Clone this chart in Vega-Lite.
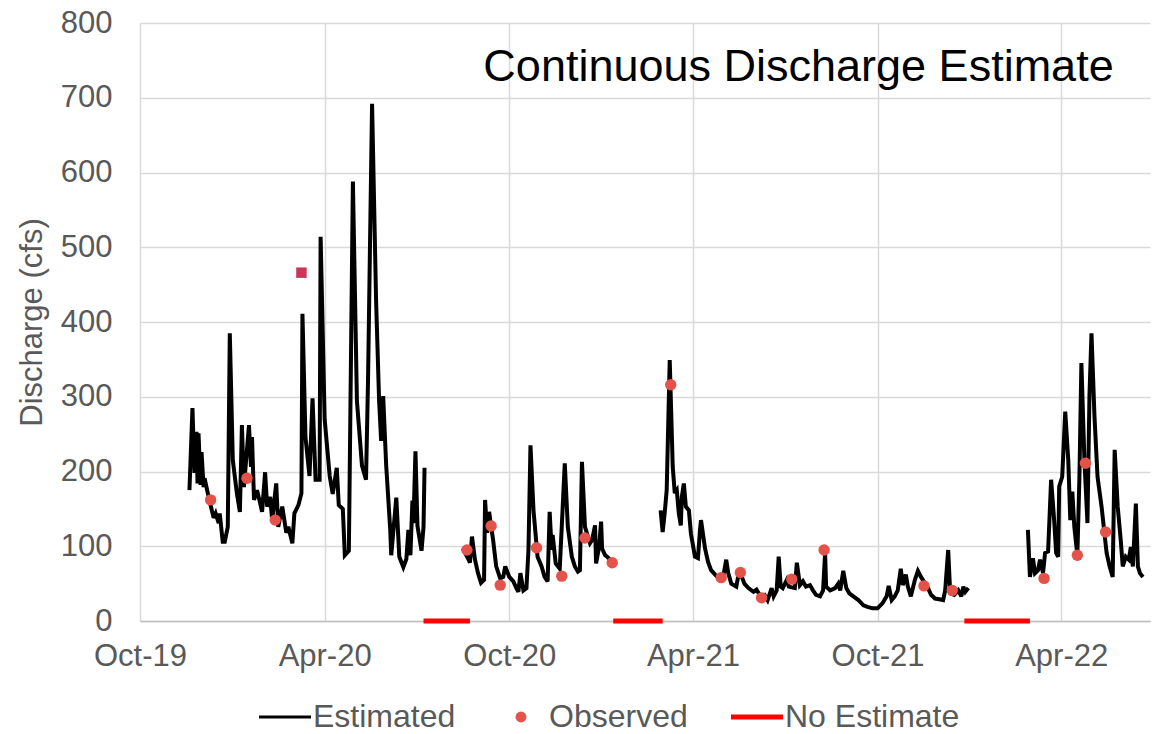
{
  "$schema": "https://vega.github.io/schema/vega-lite/v6.json",
  "width": 1010,
  "height": 598,
  "autosize": "none",
  "padding": {"left": 140, "top": 23, "right": 7, "bottom": 113},
  "background": "white",
  "config": {"view": {"stroke": null}, "font": "Liberation Sans"},
  "data": {"values": [
    {"d":"2019-11-19","v":175,"s":"Estimated","g":1},{"d":"2019-11-22","v":285,"s":"Estimated","g":1},{"d":"2019-11-24","v":198,"s":"Estimated","g":1},{"d":"2019-11-26","v":253,"s":"Estimated","g":1},{"d":"2019-11-27","v":184,"s":"Estimated","g":1},{"d":"2019-11-28","v":251,"s":"Estimated","g":1},{"d":"2019-11-30","v":182,"s":"Estimated","g":1},{"d":"2019-12-01","v":226,"s":"Estimated","g":1},{"d":"2019-12-03","v":179,"s":"Estimated","g":1},{"d":"2019-12-04","v":191,"s":"Estimated","g":1},{"d":"2019-12-08","v":166,"s":"Estimated","g":1},{"d":"2019-12-13","v":138,"s":"Estimated","g":1},{"d":"2019-12-15","v":144,"s":"Estimated","g":1},{"d":"2019-12-18","v":131,"s":"Estimated","g":1},{"d":"2019-12-19","v":144,"s":"Estimated","g":1},{"d":"2019-12-22","v":106,"s":"Estimated","g":1},{"d":"2019-12-24","v":106,"s":"Estimated","g":1},{"d":"2019-12-27","v":126,"s":"Estimated","g":1},{"d":"2019-12-29","v":385,"s":"Estimated","g":1},{"d":"2020-01-01","v":215,"s":"Estimated","g":1},{"d":"2020-01-05","v":171,"s":"Estimated","g":1},{"d":"2020-01-08","v":146,"s":"Estimated","g":1},{"d":"2020-01-10","v":262,"s":"Estimated","g":1},{"d":"2020-01-12","v":179,"s":"Estimated","g":1},{"d":"2020-01-17","v":262,"s":"Estimated","g":1},{"d":"2020-01-19","v":206,"s":"Estimated","g":1},{"d":"2020-01-20","v":246,"s":"Estimated","g":1},{"d":"2020-01-22","v":162,"s":"Estimated","g":1},{"d":"2020-01-25","v":175,"s":"Estimated","g":1},{"d":"2020-01-28","v":158,"s":"Estimated","g":1},{"d":"2020-01-30","v":146,"s":"Estimated","g":1},{"d":"2020-02-02","v":199,"s":"Estimated","g":1},{"d":"2020-02-04","v":153,"s":"Estimated","g":1},{"d":"2020-02-07","v":166,"s":"Estimated","g":1},{"d":"2020-02-09","v":135,"s":"Estimated","g":1},{"d":"2020-02-13","v":184,"s":"Estimated","g":1},{"d":"2020-02-15","v":126,"s":"Estimated","g":1},{"d":"2020-02-19","v":153,"s":"Estimated","g":1},{"d":"2020-02-23","v":118,"s":"Estimated","g":1},{"d":"2020-02-25","v":126,"s":"Estimated","g":1},{"d":"2020-02-29","v":104,"s":"Estimated","g":1},{"d":"2020-03-02","v":144,"s":"Estimated","g":1},{"d":"2020-03-06","v":155,"s":"Estimated","g":1},{"d":"2020-03-09","v":171,"s":"Estimated","g":1},{"d":"2020-03-10","v":411,"s":"Estimated","g":1},{"d":"2020-03-13","v":246,"s":"Estimated","g":1},{"d":"2020-03-17","v":194,"s":"Estimated","g":1},{"d":"2020-03-20","v":298,"s":"Estimated","g":1},{"d":"2020-03-23","v":189,"s":"Estimated","g":1},{"d":"2020-03-27","v":189,"s":"Estimated","g":1},{"d":"2020-03-28","v":514,"s":"Estimated","g":1},{"d":"2020-04-01","v":270,"s":"Estimated","g":1},{"d":"2020-04-06","v":194,"s":"Estimated","g":1},{"d":"2020-04-09","v":170,"s":"Estimated","g":1},{"d":"2020-04-13","v":205,"s":"Estimated","g":1},{"d":"2020-04-15","v":155,"s":"Estimated","g":1},{"d":"2020-04-19","v":150,"s":"Estimated","g":1},{"d":"2020-04-21","v":88,"s":"Estimated","g":1},{"d":"2020-04-25","v":94,"s":"Estimated","g":1},{"d":"2020-04-29","v":588,"s":"Estimated","g":1},{"d":"2020-05-03","v":294,"s":"Estimated","g":1},{"d":"2020-05-08","v":208,"s":"Estimated","g":1},{"d":"2020-05-12","v":189,"s":"Estimated","g":1},{"d":"2020-05-14","v":322,"s":"Estimated","g":1},{"d":"2020-05-18","v":692,"s":"Estimated","g":1},{"d":"2020-05-22","v":428,"s":"Estimated","g":1},{"d":"2020-05-25","v":294,"s":"Estimated","g":1},{"d":"2020-05-27","v":241,"s":"Estimated","g":1},{"d":"2020-05-29","v":301,"s":"Estimated","g":1},{"d":"2020-06-01","v":208,"s":"Estimated","g":1},{"d":"2020-06-05","v":122,"s":"Estimated","g":1},{"d":"2020-06-06","v":88,"s":"Estimated","g":1},{"d":"2020-06-11","v":165,"s":"Estimated","g":1},{"d":"2020-06-14","v":86,"s":"Estimated","g":1},{"d":"2020-06-18","v":72,"s":"Estimated","g":1},{"d":"2020-06-21","v":83,"s":"Estimated","g":1},{"d":"2020-06-23","v":122,"s":"Estimated","g":1},{"d":"2020-06-25","v":88,"s":"Estimated","g":1},{"d":"2020-06-27","v":161,"s":"Estimated","g":1},{"d":"2020-06-28","v":131,"s":"Estimated","g":1},{"d":"2020-06-30","v":227,"s":"Estimated","g":1},{"d":"2020-07-02","v":127,"s":"Estimated","g":1},{"d":"2020-07-06","v":94,"s":"Estimated","g":1},{"d":"2020-07-08","v":126,"s":"Estimated","g":1},{"d":"2020-07-09","v":205,"s":"Estimated","g":1},
    {"d":"2020-08-16","v":97,"s":"Estimated","g":2},{"d":"2020-08-21","v":84,"s":"Estimated","g":2},{"d":"2020-08-23","v":78,"s":"Estimated","g":2},{"d":"2020-08-25","v":113,"s":"Estimated","g":2},{"d":"2020-08-28","v":82,"s":"Estimated","g":2},{"d":"2020-08-31","v":64,"s":"Estimated","g":2},{"d":"2020-09-03","v":51,"s":"Estimated","g":2},{"d":"2020-09-06","v":55,"s":"Estimated","g":2},{"d":"2020-09-07","v":162,"s":"Estimated","g":2},{"d":"2020-09-09","v":118,"s":"Estimated","g":2},{"d":"2020-09-11","v":146,"s":"Estimated","g":2},{"d":"2020-09-15","v":108,"s":"Estimated","g":2},{"d":"2020-09-18","v":73,"s":"Estimated","g":2},{"d":"2020-09-22","v":57,"s":"Estimated","g":2},{"d":"2020-09-25","v":59,"s":"Estimated","g":2},{"d":"2020-09-27","v":73,"s":"Estimated","g":2},{"d":"2020-10-01","v":59,"s":"Estimated","g":2},{"d":"2020-10-05","v":53,"s":"Estimated","g":2},{"d":"2020-10-08","v":44,"s":"Estimated","g":2},{"d":"2020-10-10","v":39,"s":"Estimated","g":2},{"d":"2020-10-12","v":64,"s":"Estimated","g":2},{"d":"2020-10-15","v":41,"s":"Estimated","g":2},{"d":"2020-10-18","v":44,"s":"Estimated","g":2},{"d":"2020-10-20","v":95,"s":"Estimated","g":2},{"d":"2020-10-22","v":235,"s":"Estimated","g":2},{"d":"2020-10-25","v":148,"s":"Estimated","g":2},{"d":"2020-10-29","v":86,"s":"Estimated","g":2},{"d":"2020-11-02","v":73,"s":"Estimated","g":2},{"d":"2020-11-05","v":59,"s":"Estimated","g":2},{"d":"2020-11-08","v":53,"s":"Estimated","g":2},{"d":"2020-11-10","v":146,"s":"Estimated","g":2},{"d":"2020-11-12","v":95,"s":"Estimated","g":2},{"d":"2020-11-13","v":115,"s":"Estimated","g":2},{"d":"2020-11-16","v":77,"s":"Estimated","g":2},{"d":"2020-11-20","v":70,"s":"Estimated","g":2},{"d":"2020-11-25","v":211,"s":"Estimated","g":2},{"d":"2020-11-28","v":126,"s":"Estimated","g":2},{"d":"2020-12-02","v":86,"s":"Estimated","g":2},{"d":"2020-12-05","v":73,"s":"Estimated","g":2},{"d":"2020-12-08","v":66,"s":"Estimated","g":2},{"d":"2020-12-10","v":68,"s":"Estimated","g":2},{"d":"2020-12-12","v":213,"s":"Estimated","g":2},{"d":"2020-12-15","v":126,"s":"Estimated","g":2},{"d":"2020-12-20","v":104,"s":"Estimated","g":2},{"d":"2020-12-22","v":108,"s":"Estimated","g":2},{"d":"2020-12-25","v":128,"s":"Estimated","g":2},{"d":"2020-12-26","v":77,"s":"Estimated","g":2},{"d":"2020-12-29","v":99,"s":"Estimated","g":2},{"d":"2020-12-31","v":133,"s":"Estimated","g":2},{"d":"2021-01-01","v":97,"s":"Estimated","g":2},{"d":"2021-01-04","v":88,"s":"Estimated","g":2},{"d":"2021-01-06","v":86,"s":"Estimated","g":2},{"d":"2021-01-10","v":80,"s":"Estimated","g":2},{"d":"2021-01-13","v":78,"s":"Estimated","g":2},
    {"d":"2021-02-28","v":148,"s":"Estimated","g":3},{"d":"2021-03-02","v":119,"s":"Estimated","g":3},{"d":"2021-03-04","v":144,"s":"Estimated","g":3},{"d":"2021-03-06","v":175,"s":"Estimated","g":3},{"d":"2021-03-09","v":349,"s":"Estimated","g":3},{"d":"2021-03-12","v":206,"s":"Estimated","g":3},{"d":"2021-03-14","v":171,"s":"Estimated","g":3},{"d":"2021-03-16","v":175,"s":"Estimated","g":3},{"d":"2021-03-18","v":144,"s":"Estimated","g":3},{"d":"2021-03-20","v":128,"s":"Estimated","g":3},{"d":"2021-03-21","v":166,"s":"Estimated","g":3},{"d":"2021-03-23","v":184,"s":"Estimated","g":3},{"d":"2021-03-25","v":153,"s":"Estimated","g":3},{"d":"2021-03-28","v":148,"s":"Estimated","g":3},{"d":"2021-03-30","v":117,"s":"Estimated","g":3},{"d":"2021-04-03","v":86,"s":"Estimated","g":3},{"d":"2021-04-06","v":84,"s":"Estimated","g":3},{"d":"2021-04-08","v":122,"s":"Estimated","g":3},{"d":"2021-04-09","v":135,"s":"Estimated","g":3},{"d":"2021-04-13","v":97,"s":"Estimated","g":3},{"d":"2021-04-16","v":79,"s":"Estimated","g":3},{"d":"2021-04-19","v":68,"s":"Estimated","g":3},{"d":"2021-04-23","v":62,"s":"Estimated","g":3},{"d":"2021-04-28","v":55,"s":"Estimated","g":3},{"d":"2021-05-01","v":59,"s":"Estimated","g":3},{"d":"2021-05-04","v":82,"s":"Estimated","g":3},{"d":"2021-05-06","v":64,"s":"Estimated","g":3},{"d":"2021-05-09","v":50,"s":"Estimated","g":3},{"d":"2021-05-14","v":46,"s":"Estimated","g":3},{"d":"2021-05-17","v":68,"s":"Estimated","g":3},{"d":"2021-05-22","v":50,"s":"Estimated","g":3},{"d":"2021-05-26","v":44,"s":"Estimated","g":3},{"d":"2021-05-31","v":39,"s":"Estimated","g":3},{"d":"2021-06-03","v":42,"s":"Estimated","g":3},{"d":"2021-06-07","v":33,"s":"Estimated","g":3},{"d":"2021-06-11","v":35,"s":"Estimated","g":3},{"d":"2021-06-14","v":28,"s":"Estimated","g":3},{"d":"2021-06-18","v":44,"s":"Estimated","g":3},{"d":"2021-06-20","v":33,"s":"Estimated","g":3},{"d":"2021-06-23","v":41,"s":"Estimated","g":3},{"d":"2021-06-25","v":86,"s":"Estimated","g":3},{"d":"2021-06-27","v":46,"s":"Estimated","g":3},{"d":"2021-06-29","v":44,"s":"Estimated","g":3},{"d":"2021-07-03","v":55,"s":"Estimated","g":3},{"d":"2021-07-05","v":46,"s":"Estimated","g":3},{"d":"2021-07-11","v":44,"s":"Estimated","g":3},{"d":"2021-07-13","v":78,"s":"Estimated","g":3},{"d":"2021-07-16","v":48,"s":"Estimated","g":3},{"d":"2021-07-19","v":53,"s":"Estimated","g":3},{"d":"2021-07-22","v":46,"s":"Estimated","g":3},{"d":"2021-07-26","v":48,"s":"Estimated","g":3},{"d":"2021-07-29","v":41,"s":"Estimated","g":3},{"d":"2021-08-01","v":35,"s":"Estimated","g":3},{"d":"2021-08-05","v":33,"s":"Estimated","g":3},{"d":"2021-08-08","v":41,"s":"Estimated","g":3},{"d":"2021-08-10","v":91,"s":"Estimated","g":3},{"d":"2021-08-11","v":46,"s":"Estimated","g":3},{"d":"2021-08-15","v":41,"s":"Estimated","g":3},{"d":"2021-08-20","v":44,"s":"Estimated","g":3},{"d":"2021-08-23","v":50,"s":"Estimated","g":3},{"d":"2021-08-25","v":41,"s":"Estimated","g":3},{"d":"2021-08-28","v":67,"s":"Estimated","g":3},{"d":"2021-08-31","v":44,"s":"Estimated","g":3},{"d":"2021-09-03","v":37,"s":"Estimated","g":3},{"d":"2021-09-07","v":33,"s":"Estimated","g":3},{"d":"2021-09-12","v":28,"s":"Estimated","g":3},{"d":"2021-09-17","v":21,"s":"Estimated","g":3},{"d":"2021-09-21","v":19,"s":"Estimated","g":3},{"d":"2021-09-26","v":17,"s":"Estimated","g":3},{"d":"2021-10-01","v":17,"s":"Estimated","g":3},{"d":"2021-10-06","v":24,"s":"Estimated","g":3},{"d":"2021-10-10","v":33,"s":"Estimated","g":3},{"d":"2021-10-12","v":47,"s":"Estimated","g":3},{"d":"2021-10-15","v":28,"s":"Estimated","g":3},{"d":"2021-10-18","v":33,"s":"Estimated","g":3},{"d":"2021-10-21","v":41,"s":"Estimated","g":3},{"d":"2021-10-24","v":70,"s":"Estimated","g":3},{"d":"2021-10-26","v":48,"s":"Estimated","g":3},{"d":"2021-10-29","v":62,"s":"Estimated","g":3},{"d":"2021-10-31","v":46,"s":"Estimated","g":3},{"d":"2021-11-03","v":33,"s":"Estimated","g":3},{"d":"2021-11-07","v":55,"s":"Estimated","g":3},{"d":"2021-11-10","v":67,"s":"Estimated","g":3},{"d":"2021-11-13","v":59,"s":"Estimated","g":3},{"d":"2021-11-20","v":44,"s":"Estimated","g":3},{"d":"2021-11-23","v":35,"s":"Estimated","g":3},{"d":"2021-11-27","v":30,"s":"Estimated","g":3},{"d":"2021-12-01","v":29,"s":"Estimated","g":3},{"d":"2021-12-05","v":28,"s":"Estimated","g":3},{"d":"2021-12-07","v":41,"s":"Estimated","g":3},{"d":"2021-12-10","v":95,"s":"Estimated","g":3},{"d":"2021-12-12","v":37,"s":"Estimated","g":3},{"d":"2021-12-16","v":35,"s":"Estimated","g":3},{"d":"2021-12-20","v":41,"s":"Estimated","g":3},{"d":"2021-12-23","v":33,"s":"Estimated","g":3},{"d":"2021-12-25","v":46,"s":"Estimated","g":3},{"d":"2021-12-27","v":39,"s":"Estimated","g":3},{"d":"2021-12-30","v":44,"s":"Estimated","g":3},
    {"d":"2022-02-27","v":122,"s":"Estimated","g":4},{"d":"2022-03-01","v":59,"s":"Estimated","g":4},{"d":"2022-03-04","v":84,"s":"Estimated","g":4},{"d":"2022-03-06","v":64,"s":"Estimated","g":4},{"d":"2022-03-09","v":68,"s":"Estimated","g":4},{"d":"2022-03-11","v":82,"s":"Estimated","g":4},{"d":"2022-03-14","v":64,"s":"Estimated","g":4},{"d":"2022-03-16","v":91,"s":"Estimated","g":4},{"d":"2022-03-19","v":93,"s":"Estimated","g":4},{"d":"2022-03-22","v":189,"s":"Estimated","g":4},{"d":"2022-03-25","v":135,"s":"Estimated","g":4},{"d":"2022-03-27","v":91,"s":"Estimated","g":4},{"d":"2022-03-29","v":86,"s":"Estimated","g":4},{"d":"2022-03-30","v":180,"s":"Estimated","g":4},{"d":"2022-04-02","v":193,"s":"Estimated","g":4},{"d":"2022-04-05","v":280,"s":"Estimated","g":4},{"d":"2022-04-08","v":215,"s":"Estimated","g":4},{"d":"2022-04-10","v":135,"s":"Estimated","g":4},{"d":"2022-04-12","v":173,"s":"Estimated","g":4},{"d":"2022-04-14","v":126,"s":"Estimated","g":4},{"d":"2022-04-17","v":88,"s":"Estimated","g":4},{"d":"2022-04-19","v":189,"s":"Estimated","g":4},{"d":"2022-04-21","v":345,"s":"Estimated","g":4},{"d":"2022-04-24","v":215,"s":"Estimated","g":4},{"d":"2022-04-27","v":131,"s":"Estimated","g":4},{"d":"2022-04-29","v":302,"s":"Estimated","g":4},{"d":"2022-05-01","v":385,"s":"Estimated","g":4},{"d":"2022-05-04","v":273,"s":"Estimated","g":4},{"d":"2022-05-07","v":193,"s":"Estimated","g":4},{"d":"2022-05-11","v":153,"s":"Estimated","g":4},{"d":"2022-05-16","v":91,"s":"Estimated","g":4},{"d":"2022-05-19","v":73,"s":"Estimated","g":4},{"d":"2022-05-22","v":59,"s":"Estimated","g":4},{"d":"2022-05-24","v":229,"s":"Estimated","g":4},{"d":"2022-05-27","v":153,"s":"Estimated","g":4},{"d":"2022-05-30","v":108,"s":"Estimated","g":4},{"d":"2022-06-01","v":73,"s":"Estimated","g":4},{"d":"2022-06-04","v":86,"s":"Estimated","g":4},{"d":"2022-06-07","v":82,"s":"Estimated","g":4},{"d":"2022-06-09","v":99,"s":"Estimated","g":4},{"d":"2022-06-11","v":73,"s":"Estimated","g":4},{"d":"2022-06-14","v":157,"s":"Estimated","g":4},{"d":"2022-06-16","v":73,"s":"Estimated","g":4},{"d":"2022-06-18","v":64,"s":"Estimated","g":4},{"d":"2022-06-21","v":59,"s":"Estimated","g":4},
    {"d":"2020-07-08","v":0,"s":"No Estimate","g":11},{"d":"2020-08-23","v":0,"s":"No Estimate","g":11},
    {"d":"2021-01-12","v":0,"s":"No Estimate","g":12},{"d":"2021-03-02","v":0,"s":"No Estimate","g":12},
    {"d":"2021-12-26","v":0,"s":"No Estimate","g":13},{"d":"2022-03-01","v":0,"s":"No Estimate","g":13},
    {"d":"2019-12-10","v":162,"s":"Observed","g":20},{"d":"2020-01-15","v":191,"s":"Observed","g":20},{"d":"2020-02-12","v":135,"s":"Observed","g":20},{"d":"2020-03-09","v":466,"s":"Observed","g":20},{"d":"2020-08-20","v":95,"s":"Observed","g":20},{"d":"2020-09-13","v":127,"s":"Observed","g":20},{"d":"2020-09-22","v":48,"s":"Observed","g":20},{"d":"2020-10-28","v":98,"s":"Observed","g":20},{"d":"2020-11-22","v":60,"s":"Observed","g":20},{"d":"2020-12-15","v":111,"s":"Observed","g":20},{"d":"2021-01-11","v":78,"s":"Observed","g":20},{"d":"2021-03-10","v":316,"s":"Observed","g":20},{"d":"2021-04-29","v":58,"s":"Observed","g":20},{"d":"2021-05-18","v":65,"s":"Observed","g":20},{"d":"2021-06-08","v":31,"s":"Observed","g":20},{"d":"2021-07-08","v":56,"s":"Observed","g":20},{"d":"2021-08-09","v":95,"s":"Observed","g":20},{"d":"2021-11-16","v":47,"s":"Observed","g":20},{"d":"2021-12-14","v":41,"s":"Observed","g":20},{"d":"2022-03-15","v":57,"s":"Observed","g":20},{"d":"2022-04-17","v":88,"s":"Observed","g":20},{"d":"2022-04-25","v":211,"s":"Observed","g":20},{"d":"2022-05-15","v":119,"s":"Observed","g":20}
  ]},
  "encoding": {
    "x": {"field": "d", "type": "temporal",
      "scale": {"type": "utc", "domain": [{"year": 2019, "month": 10, "date": 1, "utc": true}, {"year": 2022, "month": 6, "date": 28, "utc": true}]},
      "axis": {"title": null, "format": "%b-%y", "values": [{"year": 2019, "month": 10, "date": 1, "utc": true}, {"year": 2020, "month": 4, "date": 1, "utc": true}, {"year": 2020, "month": 10, "date": 1, "utc": true}, {"year": 2021, "month": 4, "date": 1, "utc": true}, {"year": 2021, "month": 10, "date": 1, "utc": true}, {"year": 2022, "month": 4, "date": 1, "utc": true}],
        "labelFont": "Liberation Sans", "labelFontSize": 31, "labelColor": "#595959", "labelFlush": false, "labelOverlap": false, "labelPadding": 20,
        "grid": true, "gridColor": "#d9d9d9", "gridWidth": 1.5, "ticks": false, "domain": true, "domainColor": "#bfbfbf", "domainWidth": 1.5}},
    "y": {"field": "v", "type": "quantitative",
      "scale": {"domain": [0, 800], "nice": false},
      "axis": {"values": [0, 100, 200, 300, 400, 500, 600, 700, 800], "labelFont": "Liberation Sans", "labelFontSize": 31, "labelColor": "#595959", "labelPadding": 28,
        "grid": true, "gridColor": "#d9d9d9", "gridWidth": 1.5, "ticks": false, "domain": false,
        "title": "Discharge (cfs)", "titleFont": "Liberation Sans", "titleFontSize": 31, "titleFontWeight": "normal", "titleColor": "#595959", "titleX": -99, "titleY": 299, "titleBaseline": "alphabetic", "titleAlign": "center", "titleAngle": -90}}
  },
  "layer": [
    {"transform": [{"filter": "datum.s === 'Estimated'"}],
     "mark": {"type": "line", "strokeWidth": 4, "strokeJoin": "miter", "strokeMiterLimit": 3},
     "encoding": {"detail": {"field": "g"},
       "color": {"field": "s", "type": "nominal",
         "scale": {"domain": ["Estimated", "Observed", "No Estimate"], "range": ["#000000", "#e5524a", "#ff0000"]},
         "legend": {"orient": "none", "legendX": 129, "legendY": 678, "direction": "horizontal", "title": null,
           "labelFont": "Liberation Sans", "labelFontSize": 32, "labelColor": "#595959", "labelOffset": 12, "labelLimit": 0,
           "symbolSize": 2704, "symbolType": "stroke", "symbolStrokeWidth": 3, "columnPadding": -3, "gridAlign": "all",
           "encode": {"symbols": {"update": {
             "shape": {"signal": "datum.value === 'Observed' ? 'circle' : 'stroke'"},
             "size": {"signal": "datum.value === 'Observed' ? 120 : 2704"},
             "strokeWidth": {"signal": "datum.value === 'No Estimate' ? 5 : (datum.value === 'Observed' ? 0 : 3)"},
             "stroke": {"signal": "datum.value === 'Observed' ? 'transparent' : (datum.value === 'No Estimate' ? '#ff0000' : '#000000')"},
             "fill": {"signal": "datum.value === 'Observed' ? '#e0506a' : 'transparent'"},
             "opacity": {"value": 1}}}}}}}},
    {"transform": [{"filter": "datum.s === 'No Estimate'"}],
     "mark": {"type": "line", "strokeWidth": 5, "strokeCap": "butt"},
     "encoding": {"detail": {"field": "g"}, "color": {"field": "s", "type": "nominal"}}},
    {"transform": [{"filter": "datum.s === 'Observed' && datum.v < 400"}],
     "mark": {"type": "point", "filled": true, "size": 130, "opacity": 1, "shape": "circle"},
     "encoding": {"color": {"field": "s", "type": "nominal"}}},
    {"transform": [{"filter": "datum.s === 'Observed' && datum.v >= 400"}],
     "mark": {"type": "square", "size": 110, "opacity": 1, "color": "#c8375a"},
     "encoding": {}},
    {"data": {"values": [{"t": "Continuous Discharge Estimate", "d": "2022-05-23", "v": 722}]},
     "mark": {"type": "text", "align": "right", "baseline": "alphabetic", "fontSize": 45, "font": "Liberation Sans", "color": "#000000"},
     "encoding": {"text": {"field": "t", "type": "nominal"}}}
  ]
}
